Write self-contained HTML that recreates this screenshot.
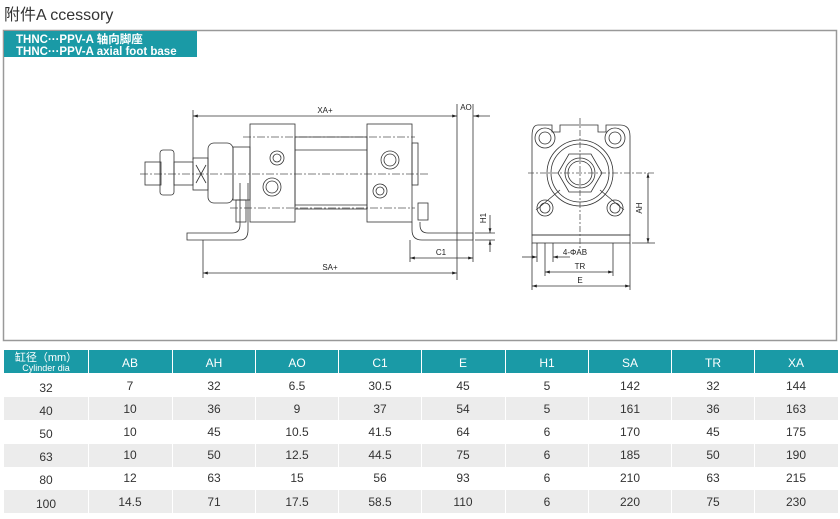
<!DOCTYPE html>
<html><head><meta charset="utf-8"><style>
html,body{margin:0;padding:0;background:#fff;}
body{width:840px;height:519px;position:relative;overflow:hidden;font-family:"Liberation Sans","Noto Sans CJK SC",sans-serif;}
svg{position:absolute;left:0;top:0;}
</style></head><body>
<svg width="840" height="519" viewBox="0 0 840 519" font-family="Liberation Sans, Noto Sans CJK SC, sans-serif">
<defs>
<marker id="a" viewBox="0 0 10 10" refX="10" refY="5" markerWidth="6" markerHeight="6" orient="auto-start-reverse"><path d="M0,2L10,5L0,8z" fill="#222"/></marker>
</defs>
<text x="4" y="20" font-size="16" fill="#333">附件A ccessory</text>
<rect x="3.5" y="30.5" width="833" height="310" fill="#fff" stroke="#999" stroke-width="1.5"/>
<rect x="4" y="31" width="193" height="26" fill="#1a9aa6"/>
<text x="16" y="43" font-size="11.5" fill="#fff" font-weight="bold">THNC···PPV-A 轴向脚座</text>
<text x="16" y="55" font-size="11.5" fill="#fff" font-weight="bold">THNC···PPV-A axial foot base</text>

<g stroke="#333" stroke-width="0.8" fill="none">
<!-- side view -->
<line x1="140" y1="174" x2="428" y2="174" stroke-dasharray="8,2,2,2" stroke="#555"/>
<line x1="243" y1="137" x2="415" y2="137" stroke-dasharray="8,2,2,2" stroke="#555"/>
<line x1="230" y1="208" x2="415" y2="208" stroke-dasharray="8,2,2,2" stroke="#555"/>
<rect x="145" y="162" width="16" height="23"/>
<rect x="160" y="150" width="14" height="45" rx="3"/>
<rect x="174" y="162" width="19" height="23"/>
<rect x="193" y="158" width="15" height="32"/>
<path d="M196,165L206,183M206,165L196,183"/>
<rect x="208" y="143" width="25" height="60" rx="6"/>
<rect x="233" y="147" width="17" height="53"/>
<rect x="250" y="124" width="45" height="98"/>
<rect x="295" y="137" width="72" height="72"/>
<line x1="295" y1="150" x2="367" y2="150"/><line x1="295" y1="205" x2="367" y2="205"/>
<rect x="367" y="124" width="45" height="98"/>
<rect x="412" y="143" width="6" height="42"/>
<circle cx="277" cy="158" r="7"/><circle cx="277" cy="158" r="4"/>
<circle cx="272" cy="187" r="9"/><circle cx="272" cy="187" r="6"/>
<circle cx="390" cy="160" r="9"/><circle cx="390" cy="160" r="6"/>
<circle cx="380" cy="191" r="7"/><circle cx="380" cy="191" r="4"/>
<rect x="236" y="200" width="10" height="22"/>
<rect x="418" y="203" width="10" height="17"/>
<path d="M240,183V225Q240,233 232,233H187V240H240Q248,240 248,230V183"/>
<path d="M412,222V230Q412,240 422,240H473V233H428Q420,233 420,225V222"/>
<!-- dimensions -->
<line x1="193" y1="110" x2="193" y2="160"/>
<line x1="457" y1="104" x2="457" y2="280"/>
<line x1="473" y1="104" x2="473" y2="262"/>
<line x1="193" y1="116" x2="457" y2="116" marker-start="url(#a)" marker-end="url(#a)"/>
<line x1="473" y1="116" x2="490" y2="116"/>
<line x1="480" y1="116" x2="474" y2="116" marker-end="url(#a)"/>
<line x1="203" y1="240" x2="203" y2="278"/>
<line x1="203" y1="273" x2="457" y2="273" marker-start="url(#a)" marker-end="url(#a)"/>
<line x1="410" y1="240" x2="410" y2="262"/>
<line x1="410" y1="258" x2="473" y2="258" marker-start="url(#a)" marker-end="url(#a)"/>
<line x1="475" y1="233" x2="495" y2="233"/><line x1="475" y1="240" x2="495" y2="240"/>
<line x1="490" y1="215" x2="490" y2="233" marker-end="url(#a)"/>
<line x1="490" y1="252" x2="490" y2="240" marker-end="url(#a)"/>
<!-- end view -->
<path d="M538,125H552V132H560V125H598V132H606V125H620Q630,125 630,136V235H532V136Q532,125 538,125Z"/>
<rect x="532" y="235" width="98" height="8"/>
<path d="M536,210L560,190M624,210L600,190"/>
<circle cx="580" cy="173" r="33"/><circle cx="580" cy="173" r="29"/>
<polygon points="558,173 569,154 591,154 602,173 591,192 569,192"/>
<circle cx="580" cy="173" r="15"/><circle cx="580" cy="173" r="12"/>
<circle cx="545" cy="138" r="10"/><circle cx="545" cy="138" r="6"/>
<circle cx="615" cy="138" r="10"/><circle cx="615" cy="138" r="6"/>
<circle cx="545" cy="208" r="8"/><circle cx="545" cy="208" r="5"/>
<circle cx="615" cy="208" r="8"/><circle cx="615" cy="208" r="5"/>
<line x1="580" y1="118" x2="580" y2="250" stroke-dasharray="6,2,2,2" stroke="#555"/>
<line x1="528" y1="173" x2="655" y2="173" stroke-dasharray="6,2,2,2" stroke="#555"/>
<line x1="632" y1="243" x2="655" y2="243"/>
<line x1="648" y1="173" x2="648" y2="243" marker-start="url(#a)" marker-end="url(#a)"/>
<line x1="532" y1="243" x2="532" y2="290"/><line x1="630" y1="243" x2="630" y2="290"/>
<line x1="545" y1="243" x2="545" y2="276"/><line x1="613" y1="243" x2="613" y2="276"/>
<line x1="537" y1="243" x2="537" y2="262"/><line x1="553" y1="243" x2="553" y2="262"/>
<line x1="522" y1="257" x2="537" y2="257" marker-end="url(#a)"/>
<line x1="570" y1="257" x2="553" y2="257" marker-end="url(#a)"/>
<line x1="545" y1="272" x2="613" y2="272" marker-start="url(#a)" marker-end="url(#a)"/>
<line x1="532" y1="286" x2="630" y2="286" marker-start="url(#a)" marker-end="url(#a)"/>
</g>
<g font-size="8" fill="#222">
<text x="325" y="113" text-anchor="middle">XA+</text>
<text x="466" y="110" text-anchor="middle">AO</text>
<text x="330" y="270" text-anchor="middle">SA+</text>
<text x="441" y="255" text-anchor="middle">C1</text>
<text x="486" y="218" transform="rotate(-90 486 218)" text-anchor="middle">H1</text>
<text x="575" y="255" text-anchor="middle">4-ΦAB</text>
<text x="580" y="269" text-anchor="middle">TR</text>
<text x="580" y="283" text-anchor="middle">E</text>
<text x="642" y="208" transform="rotate(-90 642 208)" text-anchor="middle">AH</text>
</g>

<!-- table -->
<g>
<rect x="4" y="350" width="834" height="23" fill="#1a9aa6"/>
<rect x="4" y="397" width="834" height="23" fill="#ececec"/>
<rect x="4" y="444" width="834" height="23" fill="#ececec"/>
<rect x="4" y="490" width="834" height="23" fill="#ececec"/>
<g stroke="#fff" stroke-width="1">
<line x1="88.5" y1="350" x2="88.5" y2="513"/><line x1="172.5" y1="350" x2="172.5" y2="513"/>
<line x1="255.5" y1="350" x2="255.5" y2="513"/><line x1="338.5" y1="350" x2="338.5" y2="513"/>
<line x1="421.5" y1="350" x2="421.5" y2="513"/><line x1="505.5" y1="350" x2="505.5" y2="513"/>
<line x1="588.5" y1="350" x2="588.5" y2="513"/><line x1="671.5" y1="350" x2="671.5" y2="513"/>
<line x1="754.5" y1="350" x2="754.5" y2="513"/>
</g>
<g fill="#fff" font-size="12" text-anchor="middle">
<text x="46" y="361" font-size="11">缸径（mm）</text>
<text x="46" y="371" font-size="9">Cylinder dia</text>
<text x="130" y="367">AB</text><text x="214" y="367">AH</text><text x="297" y="367">AO</text>
<text x="380" y="367">C1</text><text x="463" y="367">E</text><text x="547" y="367">H1</text>
<text x="630" y="367">SA</text><text x="713" y="367">TR</text><text x="796" y="367">XA</text>
</g>
<g fill="#333" font-size="12" text-anchor="middle">
<text x="46" y="392">32</text><text x="130" y="390">7</text><text x="214" y="390">32</text><text x="297" y="390">6.5</text><text x="380" y="390">30.5</text><text x="463" y="390">45</text><text x="547" y="390">5</text><text x="630" y="390">142</text><text x="713" y="390">32</text><text x="796" y="390">144</text>
<text x="46" y="415">40</text><text x="130" y="413">10</text><text x="214" y="413">36</text><text x="297" y="413">9</text><text x="380" y="413">37</text><text x="463" y="413">54</text><text x="547" y="413">5</text><text x="630" y="413">161</text><text x="713" y="413">36</text><text x="796" y="413">163</text>
<text x="46" y="438">50</text><text x="130" y="436">10</text><text x="214" y="436">45</text><text x="297" y="436">10.5</text><text x="380" y="436">41.5</text><text x="463" y="436">64</text><text x="547" y="436">6</text><text x="630" y="436">170</text><text x="713" y="436">45</text><text x="796" y="436">175</text>
<text x="46" y="461">63</text><text x="130" y="459">10</text><text x="214" y="459">50</text><text x="297" y="459">12.5</text><text x="380" y="459">44.5</text><text x="463" y="459">75</text><text x="547" y="459">6</text><text x="630" y="459">185</text><text x="713" y="459">50</text><text x="796" y="459">190</text>
<text x="46" y="484">80</text><text x="130" y="482">12</text><text x="214" y="482">63</text><text x="297" y="482">15</text><text x="380" y="482">56</text><text x="463" y="482">93</text><text x="547" y="482">6</text><text x="630" y="482">210</text><text x="713" y="482">63</text><text x="796" y="482">215</text>
<text x="46" y="508">100</text><text x="130" y="506">14.5</text><text x="214" y="506">71</text><text x="297" y="506">17.5</text><text x="380" y="506">58.5</text><text x="463" y="506">110</text><text x="547" y="506">6</text><text x="630" y="506">220</text><text x="713" y="506">75</text><text x="796" y="506">230</text>
</g>
</g>
</svg>
</body></html>
